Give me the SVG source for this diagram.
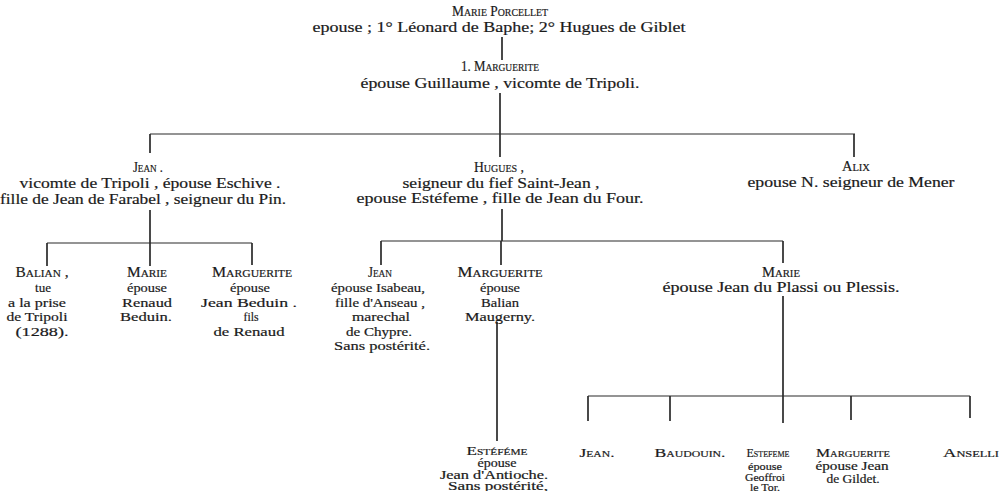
<svg xmlns="http://www.w3.org/2000/svg" width="999" height="491" viewBox="0 0 999 491">
  <style>
    text { font-family: "Liberation Serif", "DejaVu Serif", serif; font-size: 15px; fill: #1a1a1a; stroke: #1a1a1a; stroke-width: 0.2; text-anchor: middle; }
    .sc { font-variant: small-caps; }
    .b { font-size: 13px; }
    .hd { font-size: 13.5px; }
    .sm { font-size: 11.5px; }
    .xs { font-size: 10.5px; }
    #connectors line { stroke: #2a2a2a; stroke-width: 1.1; }
    #connectors line.v { stroke-width: 1.7; }
  </style>
  <rect width="999" height="491" fill="#ffffff"/>

  <g id="connectors">
    <line class="v" x1="502" y1="37" x2="502" y2="60"/>
    <line class="v" x1="500" y1="93" x2="500" y2="134"/>
    <line x1="150" y1="134" x2="855" y2="134"/>
    <line class="v" x1="150" y1="134" x2="150" y2="153"/>
    <line class="v" x1="500" y1="134" x2="500" y2="157"/>
    <line class="v" x1="854" y1="134" x2="854" y2="157"/>

    <line class="v" x1="150" y1="210" x2="150" y2="243"/>
    <line x1="47" y1="243" x2="252" y2="243"/>
    <line class="v" x1="47" y1="243" x2="47" y2="266"/>
    <line class="v" x1="150" y1="243" x2="150" y2="266"/>
    <line class="v" x1="252" y1="243" x2="252" y2="265"/>

    <line class="v" x1="502" y1="209" x2="502" y2="241"/>
    <line x1="381" y1="241" x2="783" y2="241"/>
    <line class="v" x1="381" y1="241" x2="381" y2="265"/>
    <line class="v" x1="501" y1="241" x2="501" y2="265"/>
    <line class="v" x1="783" y1="241" x2="783" y2="263"/>

    <line class="v" x1="497" y1="322" x2="497" y2="441"/>

    <line class="v" x1="783" y1="296" x2="783" y2="396"/>
    <line x1="588" y1="396" x2="970" y2="396"/>
    <line class="v" x1="588" y1="396" x2="588" y2="421"/>
    <line class="v" x1="670" y1="396" x2="670" y2="421"/>
    <line class="v" x1="783" y1="396" x2="783" y2="423"/>
    <line class="v" x1="851" y1="396" x2="851" y2="420"/>
    <line class="v" x1="970" y1="396" x2="970" y2="418"/>
  </g>

  <g id="marie-porcellet">
    <text class="sc" x="500" y="16" textLength="96" lengthAdjust="spacingAndGlyphs">Marie Porcellet</text>
    <text x="499" y="32" textLength="373" lengthAdjust="spacingAndGlyphs">epouse ; 1° Léonard de Baphe; 2° Hugues de Giblet</text>
  </g>

  <g id="marguerite-1">
    <text class="sc" x="500" y="71" textLength="78" lengthAdjust="spacingAndGlyphs">1. Marguerite</text>
    <text x="500" y="88" textLength="279" lengthAdjust="spacingAndGlyphs">épouse Guillaume , vicomte de Tripoli.</text>
  </g>

  <g id="jean-vicomte">
    <text class="sc" x="148" y="172" textLength="30" lengthAdjust="spacingAndGlyphs">Jean .</text>
    <text x="150" y="188" textLength="261" lengthAdjust="spacingAndGlyphs">vicomte de Tripoli , épouse Eschive .</text>
    <text x="143" y="204" textLength="286" lengthAdjust="spacingAndGlyphs">fille de Jean de Farabel , seigneur du Pin.</text>
  </g>

  <g id="hugues">
    <text class="sc" x="499" y="172" textLength="50" lengthAdjust="spacingAndGlyphs">Hugues ,</text>
    <text x="501" y="188" textLength="197" lengthAdjust="spacingAndGlyphs">seigneur du fief Saint-Jean ,</text>
    <text x="500" y="203" textLength="287" lengthAdjust="spacingAndGlyphs">epouse Estéfeme , fille de Jean du Four.</text>
  </g>

  <g id="alix">
    <text class="sc" x="856" y="171" textLength="28" lengthAdjust="spacingAndGlyphs">Alix</text>
    <text x="851" y="187" textLength="207" lengthAdjust="spacingAndGlyphs">epouse N. seigneur de Mener</text>
  </g>

  <g id="balian">
    <text class="sc" x="42" y="277" textLength="53" lengthAdjust="spacingAndGlyphs">Balian ,</text>
    <text class="b" x="43" y="292" textLength="16" lengthAdjust="spacingAndGlyphs">tue</text>
    <text class="b" x="37" y="306.5" textLength="58" lengthAdjust="spacingAndGlyphs">a la prise</text>
    <text class="b" x="37" y="321" textLength="61" lengthAdjust="spacingAndGlyphs">de Tripoli</text>
    <text class="b" x="42" y="335.5" textLength="53" lengthAdjust="spacingAndGlyphs">(1288).</text>
  </g>

  <g id="marie-renaud">
    <text class="sc" x="147" y="277" textLength="40" lengthAdjust="spacingAndGlyphs">Marie</text>
    <text class="b" x="147" y="292" textLength="40" lengthAdjust="spacingAndGlyphs">épouse</text>
    <text class="b" x="147" y="306.5" textLength="50" lengthAdjust="spacingAndGlyphs">Renaud</text>
    <text class="b" x="146" y="321" textLength="52" lengthAdjust="spacingAndGlyphs">Beduin.</text>
  </g>

  <g id="marguerite-beduin">
    <text class="sc" x="252" y="277" textLength="80" lengthAdjust="spacingAndGlyphs">Marguerite</text>
    <text class="b" x="250" y="292" textLength="40" lengthAdjust="spacingAndGlyphs">épouse</text>
    <text class="b" x="249" y="306.5" textLength="96" lengthAdjust="spacingAndGlyphs">Jean Beduin .</text>
    <text class="b" x="251" y="321" textLength="15" lengthAdjust="spacingAndGlyphs">fils</text>
    <text class="b" x="249" y="335.5" textLength="71" lengthAdjust="spacingAndGlyphs">de Renaud</text>
  </g>

  <g id="jean-isabeau">
    <text class="sc" x="380" y="277" textLength="24" lengthAdjust="spacingAndGlyphs">Jean</text>
    <text class="b" x="378" y="292" textLength="94" lengthAdjust="spacingAndGlyphs">épouse Isabeau,</text>
    <text class="b" x="380" y="306.5" textLength="90" lengthAdjust="spacingAndGlyphs">fille d'Anseau ,</text>
    <text class="b" x="381" y="321" textLength="58" lengthAdjust="spacingAndGlyphs">marechal</text>
    <text class="b" x="379" y="335.5" textLength="66" lengthAdjust="spacingAndGlyphs">de Chypre.</text>
    <text class="b" x="382" y="350" textLength="96" lengthAdjust="spacingAndGlyphs">Sans postérité.</text>
  </g>

  <g id="marguerite-maugerny">
    <text class="sc" x="500" y="277" textLength="85" lengthAdjust="spacingAndGlyphs">Marguerite</text>
    <text class="b" x="500" y="292" textLength="40" lengthAdjust="spacingAndGlyphs">épouse</text>
    <text class="b" x="500" y="306.5" textLength="38" lengthAdjust="spacingAndGlyphs">Balian</text>
    <text class="b" x="500" y="321" textLength="70" lengthAdjust="spacingAndGlyphs">Maugerny.</text>
  </g>

  <g id="estefeme-antioche">
    <text class="sc hd" x="497" y="455" textLength="61" lengthAdjust="spacingAndGlyphs">Estéféme</text>
    <text class="sm" x="497" y="467" textLength="39" lengthAdjust="spacingAndGlyphs">épouse</text>
    <text class="sm" x="494" y="478.5" textLength="108" lengthAdjust="spacingAndGlyphs">Jean d'Antioche.</text>
    <text class="sm" x="498" y="489.5" textLength="100" lengthAdjust="spacingAndGlyphs">Sans postérité,</text>
  </g>

  <g id="marie-plessis">
    <text class="sc" x="781" y="277" textLength="38" lengthAdjust="spacingAndGlyphs">Marie</text>
    <text x="781" y="292" textLength="237" lengthAdjust="spacingAndGlyphs">épouse Jean du Plassi ou Plessis.</text>
  </g>

  <g id="jean-plessis">
    <text class="sc hd" x="597" y="457" textLength="35" lengthAdjust="spacingAndGlyphs">Jean.</text>
  </g>

  <g id="baudouin">
    <text class="sc hd" x="690" y="457" textLength="71" lengthAdjust="spacingAndGlyphs">Baudouin.</text>
  </g>

  <g id="estefeme-tor">
    <text class="sc hd" x="768" y="457" textLength="43" lengthAdjust="spacingAndGlyphs">Estefeme</text>
    <text class="xs" x="765" y="470" textLength="34" lengthAdjust="spacingAndGlyphs">épouse</text>
    <text class="xs" x="765" y="480.5" textLength="40" lengthAdjust="spacingAndGlyphs">Geoffroi</text>
    <text class="xs" x="765" y="490.5" textLength="30" lengthAdjust="spacingAndGlyphs">le Tor.</text>
  </g>

  <g id="marguerite-gildet">
    <text class="sc hd" x="853" y="457" textLength="74" lengthAdjust="spacingAndGlyphs">Marguerite</text>
    <text class="sm" x="852" y="470" textLength="73" lengthAdjust="spacingAndGlyphs">épouse Jean</text>
    <text class="sm" x="853" y="482.5" textLength="53" lengthAdjust="spacingAndGlyphs">de Gildet.</text>
  </g>

  <g id="anselli">
    <text class="sc hd" x="971" y="457" textLength="56" lengthAdjust="spacingAndGlyphs">Anselli</text>
  </g>
</svg>
